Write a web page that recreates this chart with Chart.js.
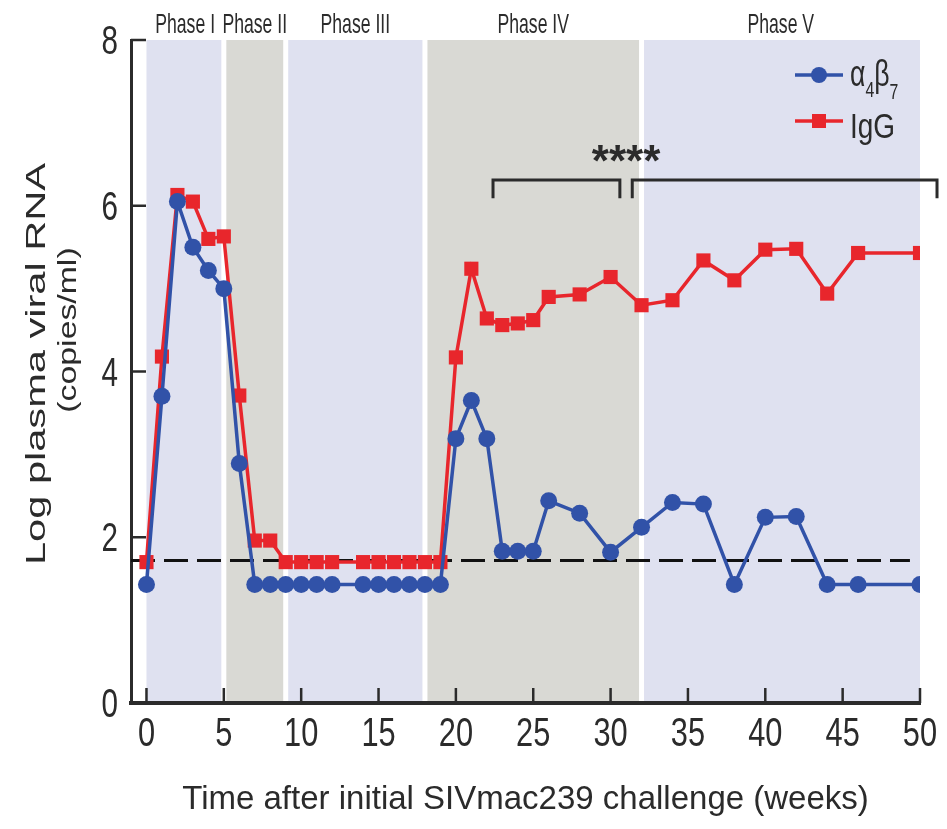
<!DOCTYPE html>
<html>
<head>
<meta charset="utf-8">
<script src="https://cdn.jsdelivr.net/npm/chart.js@4.4.1/dist/chart.umd.min.js"></script>
<style>
    html, body { margin: 0; padding: 0; background: #fff; }
</style>
</head>
<body>
<canvas id="chart" width="947" height="829"></canvas>
<script>
// weeks after challenge, same sampling for both groups
const weeks = [0, 1, 2, 3, 4, 5, 6, 7, 8, 9, 10, 11, 12, 14, 15, 16, 17, 18, 19,
    20, 21, 22, 23, 24, 25, 26, 28, 30, 32, 34, 36, 38, 40, 42, 44, 46, 50];
const a4b7 = [1.43, 3.7, 6.05, 5.5, 5.22, 5.0, 2.89, 1.43, 1.43, 1.43, 1.43, 1.43, 1.43, 1.43, 1.43, 1.43, 1.43, 1.43, 1.43,
    3.19, 3.65, 3.19, 1.83, 1.83, 1.83, 2.44, 2.29, 1.82, 2.12, 2.42, 2.40, 1.43, 2.24, 2.25, 1.43, 1.43, 1.43];
const igg = [1.7, 4.18, 6.13, 6.05, 5.6, 5.63, 3.71, 1.96, 1.96, 1.7, 1.7, 1.7, 1.7, 1.7, 1.7, 1.7, 1.7, 1.7, 1.7,
    4.17, 5.24, 4.64, 4.56, 4.58, 4.62, 4.9, 4.93, 5.14, 4.8, 4.86, 5.34, 5.1, 5.47, 5.48, 4.94, 5.43, 5.43];
const detectionLimit = 1.72;
const dashSpan = [-1, 49.35];

const phaseNames = ['Phase I', 'Phase II', 'Phase III', 'Phase IV', 'Phase V'];
const phaseStart = [0, 5, 9, 18, 32];
const phaseEnd = [5, 9, 18, 32, 50];

const bracketLeft = [22.4, 30.6];
const bracketRight = [31.4, 51.1];
const bracketTop = 6.31;
const bracketFoot = 6.09;
const sigLabel = '****';
const sigAt = [31.0, 6.36];

const BLUE = '#3152a8';
const RED = '#e8262c';
const INK = '#2b2b2b';
const LAVENDER = '#dfe1f0';
const GREY = '#d9d9d4';
const FONT = '"Liberation Sans", Arial, sans-serif';

function pts(xs, ys) {
    return xs.map((x, i) => ({x: x, y: ys[i]}));
}

// draw a text squeezed / stretched along its own direction
function fitText(ctx, str, x, y, size, sx, angle, align, weight) {
    ctx.save();
    ctx.translate(x, y);
    ctx.rotate(angle || 0);
    ctx.scale(sx, 1);
    ctx.font = (weight || '') + ' ' + size + 'px ' + FONT;
    ctx.textAlign = align || 'center';
    ctx.textBaseline = 'alphabetic';
    ctx.fillStyle = INK;
    ctx.fillText(str, 0, 0);
    let w = ctx.measureText(str).width * sx;
    ctx.restore();
    return w;
}

const backdrop = {
    id: 'backdrop',
    beforeDraw(chart) {
        const {ctx, scales: {x, y}} = chart;
        ctx.save();
        ctx.fillStyle = '#fff';
        ctx.fillRect(0, 0, chart.width, chart.height);
        const top = y.getPixelForValue(8), bot = y.getPixelForValue(0);
        phaseNames.forEach((name, i) => {
            const x0 = x.getPixelForValue(phaseStart[i]);
            const x1 = x.getPixelForValue(phaseEnd[i]);
            ctx.fillStyle = i % 2 ? GREY : LAVENDER;
            ctx.fillRect(x0, top, x1 - x0, bot - top);
            fitText(ctx, name, (x0 + x1) / 2, 33, 28, 0.63);
        });
        // white gaps between phases
        ctx.fillStyle = '#fff';
        phaseStart.slice(1).forEach(v => {
            const px = x.getPixelForValue(v);
            ctx.fillRect(px - 2.5, top, 5, bot - top);
        });
        ctx.restore();
    },
    afterDraw(chart) {
        const {ctx, scales: {x, y}, chartArea: a} = chart;
        ctx.save();
        ctx.strokeStyle = INK;
        ctx.lineWidth = 2.5;
        // inward tick marks + narrow tick labels
        x.ticks.forEach(t => {
            const px = x.getPixelForValue(t.value);
            ctx.beginPath();
            ctx.moveTo(px, a.bottom);
            ctx.lineTo(px, a.bottom - 15);
            ctx.stroke();
            fitText(ctx, String(t.value), px, 746, 40, 0.77);
        });
        y.ticks.forEach(t => {
            const py = y.getPixelForValue(t.value);
            ctx.beginPath();
            ctx.moveTo(a.left, py);
            ctx.lineTo(a.left + 15, py);
            ctx.stroke();
            fitText(ctx, String(t.value), 118, py + 14, 40, 0.74, 0, 'right');
        });

        // significance brackets
        ctx.lineWidth = 3;
        [bracketLeft, bracketRight].forEach(b => {
            const x0 = x.getPixelForValue(b[0]), x1 = x.getPixelForValue(b[1]);
            const yt = y.getPixelForValue(bracketTop), yf = y.getPixelForValue(bracketFoot);
            ctx.beginPath();
            ctx.moveTo(x0, yf);
            ctx.lineTo(x0, yt);
            ctx.lineTo(x1, yt);
            ctx.lineTo(x1, yf);
            ctx.stroke();
        });
        fitText(ctx, sigLabel, x.getPixelForValue(sigAt[0]), y.getPixelForValue(sigAt[1]), 44, 1, 0, 'center', 'bold');

        // legend
        ctx.lineWidth = 3.5;
        ctx.strokeStyle = BLUE;
        ctx.beginPath(); ctx.moveTo(795, 75); ctx.lineTo(843, 75); ctx.stroke();
        ctx.fillStyle = BLUE;
        ctx.beginPath(); ctx.arc(819, 75, 8, 0, Math.PI * 2); ctx.fill();
        ctx.strokeStyle = RED;
        ctx.beginPath(); ctx.moveTo(795, 121); ctx.lineTo(843, 121); ctx.stroke();
        ctx.fillStyle = RED;
        ctx.fillRect(812, 114, 14, 14);
        let lx = 850;
        lx += fitText(ctx, '\u03b1', lx, 86, 37, 0.72, 0, 'left');
        lx += fitText(ctx, '4', lx, 97, 22, 0.72, 0, 'left');
        lx += fitText(ctx, '\u03b2', lx, 86, 37, 0.72, 0, 'left');
        fitText(ctx, '7', lx, 99, 22, 0.72, 0, 'left');
        fitText(ctx, 'IgG', 850, 138, 35, 0.8, 0, 'left');

        // y axis title, two lines
        fitText(ctx, 'Log plasma viral RNA', 45, 364, 28, 1.485, -Math.PI / 2);
        fitText(ctx, '(copies/ml)', 76, 330, 26, 1.30, -Math.PI / 2);
        ctx.restore();
    }
};

const ctx = document.getElementById('chart').getContext('2d');
new Chart(ctx, {
    type: 'line',
    data: {
        datasets: [{
            label: 'a4b7',
            data: pts(weeks, a4b7),
            borderColor: BLUE,
            backgroundColor: BLUE,
            borderWidth: 3.5,
            pointStyle: 'circle',
            pointRadius: 8.5,
            pointBorderWidth: 0,
        }, {
            label: 'IgG',
            data: pts(weeks, igg),
            borderColor: RED,
            backgroundColor: RED,
            borderWidth: 3.5,
            pointStyle: 'rect',
            pointRadius: 10,
            pointBorderWidth: 0,
        }, {
            label: 'limit',
            data: pts(dashSpan, [detectionLimit, detectionLimit]),
            borderColor: '#111',
            borderWidth: 3,
            borderDash: [24, 9],
            pointRadius: 0,
        }]
    },
    options: {
        responsive: false,
        animation: false,
        layout: {padding: {top: 40, right: 27, left: 0, bottom: 0}},
        plugins: {legend: {display: false}, tooltip: {enabled: false}},
        scales: {
            x: {
                type: 'linear',
                min: -1,
                max: 50,
                afterFit: s => { s.height = 126; },
                grid: {display: true, drawOnChartArea: false, drawTicks: false},
                border: {display: true, width: 4, color: INK},
                ticks: {stepSize: 5, includeBounds: false, display: false},
                title: {
                    display: true,
                    text: 'Time after initial SIVmac239 challenge (weeks)',
                    color: INK,
                    font: {family: FONT, size: 33},
                    padding: {top: 0, bottom: 9}
                }
            },
            y: {
                min: 0,
                max: 8,
                afterFit: s => { s.width = 131; },
                grid: {display: true, drawOnChartArea: false, drawTicks: false},
                border: {display: true, width: 3, color: INK},
                ticks: {stepSize: 2, display: false}
            }
        }
    },
    plugins: [backdrop]
});
</script>
</body>
</html>
